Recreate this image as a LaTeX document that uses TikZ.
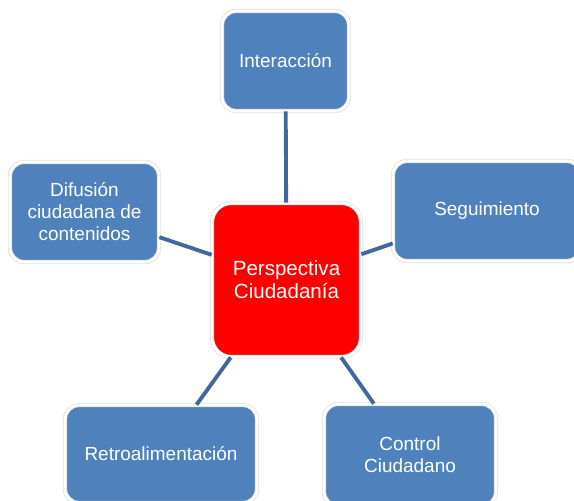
\documentclass[tikz,border=0pt]{standalone}
\usepackage{fontspec}
\setmainfont{Liberation Sans}
\definecolor{boxblue}{HTML}{4F81BD}
\definecolor{linkblue}{HTML}{41689A}

\begin{document}
\begin{tikzpicture}[x=0.02cm,y=-0.02cm]
	\tikzset{BoxStyle/.style =
		{draw = gray!25,
			double = white,
			double distance = 1.6pt,
			line width = 0.4pt,
			fill = boxblue,
			rounded corners = 8pt,
			text = white,
			align = center,
			inner sep = 2pt,
			font = \fontsize{10.8}{12.5}\selectfont},
		HubStyle/.style =
		{BoxStyle,
			fill = red,
			rounded corners = 11pt,
			font = \fontsize{11.7}{13}\selectfont},
		LinkStyle/.style = {draw = linkblue, line width = 2.2pt}}
	\clip (0,0) rectangle (574,500);
	\node[HubStyle, minimum width=2.98cm, minimum height=3.08cm] (P) at (286.5,280) {Perspectiva\\Ciudadanía};
	\node[BoxStyle, minimum width=2.54cm, minimum height=2cm] (I) at (285.5,61) {Interacción};
	\node[BoxStyle, minimum width=2.98cm, minimum height=2cm] (D) at (84.5,212) {Difusión\\ciudadana de\\contenidos};
	\node[BoxStyle, minimum width=3.76cm, minimum height=2cm] (S) at (487,211) {Seguimiento};
	\node[BoxStyle, minimum width=3.84cm, minimum height=1.96cm] (R) at (161,454) {Retroalimentación};
	\node[BoxStyle, minimum width=3.44cm, minimum height=2.04cm] (C) at (410,455) {Control\\Ciudadano};
	%links
	\draw[LinkStyle] (P) -- (I);
	\draw[LinkStyle] (P) -- (D);
	\draw[LinkStyle] (P) -- (S);
	\draw[LinkStyle] (P) -- (R);
	\draw[LinkStyle] (P) -- (C);
\end{tikzpicture}
\end{document}
